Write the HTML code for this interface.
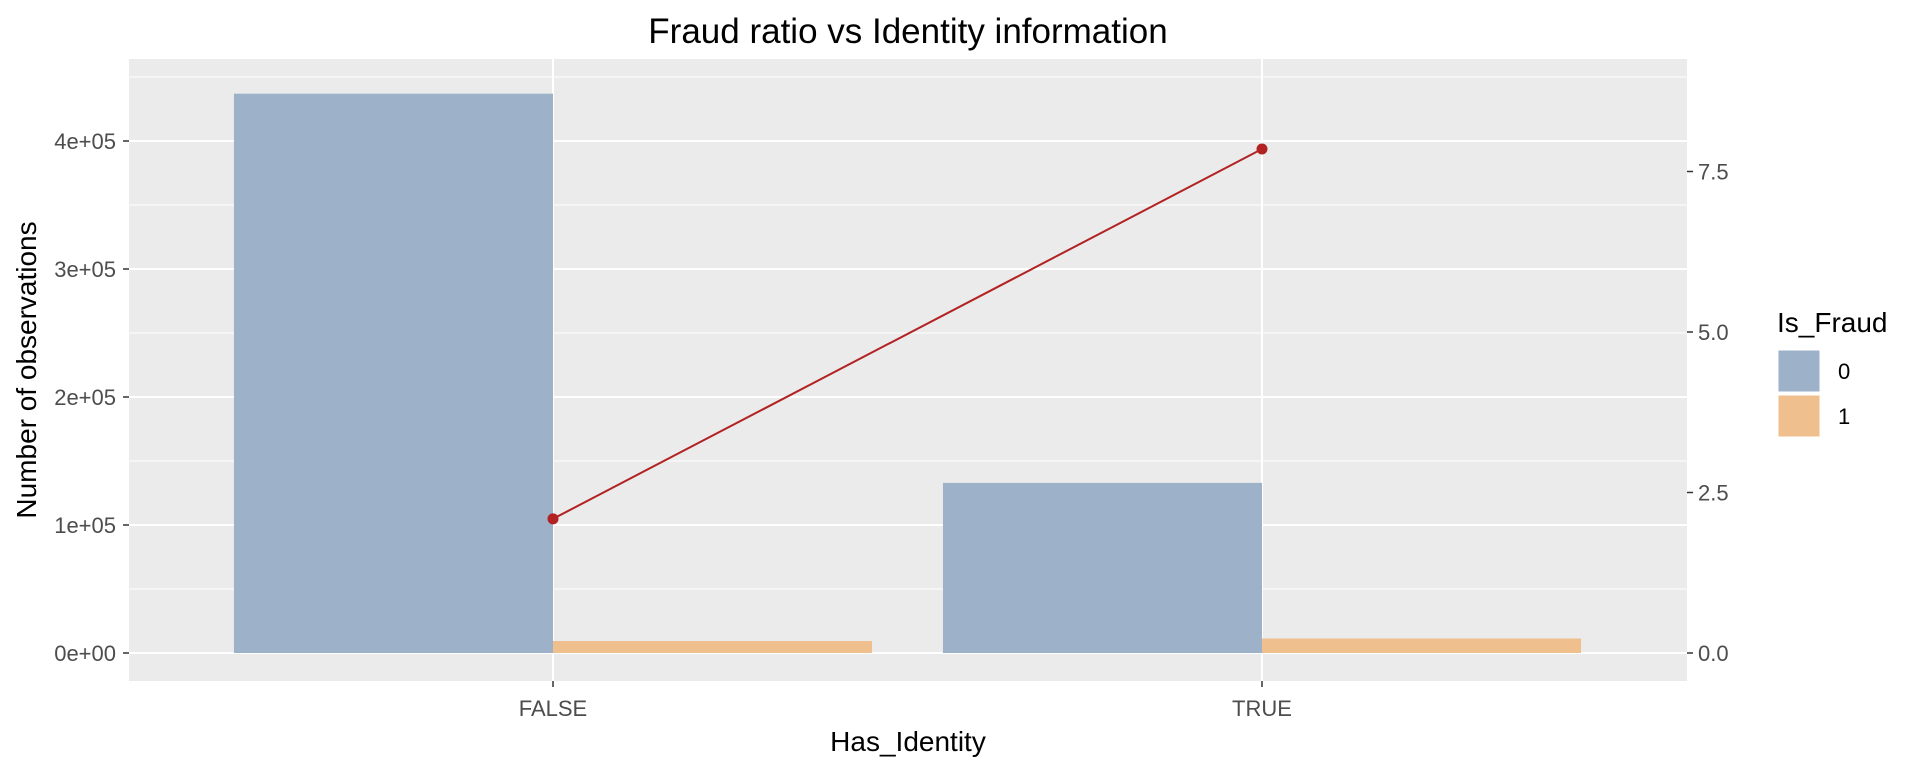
<!DOCTYPE html>
<html><head><meta charset="utf-8"><style>
body{margin:0;background:#fff;}
svg text{font-family:"Liberation Sans",Arial,sans-serif;}
</style></head><body>
<svg id="chart" width="1920" height="768" xmlns="http://www.w3.org/2000/svg">
<text x="908" y="43" font-size="35" text-anchor="middle" fill="#000">Fraud ratio vs Identity information</text>
<rect x="129" y="59" width="1558" height="622" fill="#EBEBEB"/>
<g id="grid"></g><g id="bars"></g><g id="line"></g><g id="axes"></g>
<text x="908" y="751" font-size="28" text-anchor="middle" fill="#000">Has_Identity</text>
<text transform="translate(36,370) rotate(-90)" font-size="28" text-anchor="middle" fill="#000">Number of observations</text>
<g>
<text x="1777" y="332" font-size="28" fill="#000">Is_Fraud</text>
<rect x="1778" y="350" width="42" height="42" fill="#9DB1C8" stroke="#fff"/>
<text x="1838" y="379" font-size="22" fill="#000">0</text>
<rect x="1778" y="395" width="42" height="42" fill="#F0BF8E" stroke="#fff"/>
<text x="1838" y="424" font-size="22" fill="#000">1</text>
</g>
</svg>
<script>
const categories = ["FALSE", "TRUE"];
const countNotFraud = [436962, 132915];
const countFraud = [9345, 11318];
const fraudRatio = [2.09, 7.85];
const leftTicks = [0, 100000, 200000, 300000, 400000];
const leftTickLabels = ["0e+00", "1e+05", "2e+05", "3e+05", "4e+05"];
const rightTicks = [0, 2.5, 5.0, 7.5];
const rightTickLabels = ["0.0", "2.5", "5.0", "7.5"];

const NS = "http://www.w3.org/2000/svg";
const pl = 129, pr = 1687, pt = 59, pb = 681;
const y0 = 653, pxPerUnit = 128 / 100000;
const yL = v => y0 - v * pxPerUnit;
const yR = v => y0 - v * 64.2;
const step = 709;
const xC = i => 553 + i * step;
function mk(tag, attrs, parent) {
  const e = document.createElementNS(NS, tag);
  for (const k in attrs) e.setAttribute(k, attrs[k]);
  parent.appendChild(e); return e;
}
const grid = document.getElementById("grid");
for (let v = 50000; v <= 450000; v += 100000) {
  const l = mk("line", {x1: pl, x2: pr, y1: yL(v), y2: yL(v), stroke: "#fff", "stroke-width": 1}, grid);
  
  
}
leftTicks.forEach(v => {
  const l = mk("line", {x1: pl, x2: pr, y1: yL(v), y2: yL(v), stroke: "#fff", "stroke-width": 2}, grid);
  
  
});
categories.forEach((c, i) => {
  const l = mk("line", {x1: xC(i), x2: xC(i), y1: pt, y2: pb, stroke: "#fff", "stroke-width": 2}, grid);
  
  
});
const bars = document.getElementById("bars");
const bw = 0.45 * step;
categories.forEach((c, i) => {
  const b0 = mk("rect", {x: xC(i) - bw, y: yL(countNotFraud[i]), width: bw, height: y0 - yL(countNotFraud[i]), fill: "#9DB1C8"}, bars);
  
  
  const b1 = mk("rect", {x: xC(i), y: yL(countFraud[i]), width: bw, height: y0 - yL(countFraud[i]), fill: "#F0BF8E"}, bars);
  
  
});
const lg = document.getElementById("line");
const pts = fraudRatio.map((v, i) => xC(i) + "," + yR(v)).join(" ");
const pl2 = mk("polyline", {points: pts, fill: "none", stroke: "#B22222", "stroke-width": 2}, lg);


fraudRatio.forEach((v, i) => {
  const p = mk("circle", {cx: xC(i), cy: yR(v), r: 5.5, fill: "#B22222"}, lg);
  
  
});
const ax = document.getElementById("axes");
leftTicks.forEach((v, i) => {
  const t = mk("line", {x1: pl - 6, x2: pl, y1: yL(v), y2: yL(v), stroke: "#333", "stroke-width": 1.5}, ax);
  
  
  const tx = mk("text", {x: pl - 13, y: yL(v) + 8, "font-size": 22, "text-anchor": "end", fill: "#4D4D4D"}, ax);
  tx.textContent = leftTickLabels[i];
  
  
});
rightTicks.forEach((v, i) => {
  const t = mk("line", {x1: pr, x2: pr + 6, y1: yR(v), y2: yR(v), stroke: "#333", "stroke-width": 1.5}, ax);
  
  
  const tx = mk("text", {x: pr + 11, y: yR(v) + 8, "font-size": 22, fill: "#4D4D4D"}, ax);
  tx.textContent = rightTickLabels[i];
  
  
});
categories.forEach((c, i) => {
  const t = mk("line", {x1: xC(i), x2: xC(i), y1: pb, y2: pb + 6, stroke: "#333", "stroke-width": 1.5}, ax);
  
  
  const tx = mk("text", {x: xC(i), y: pb + 35, "font-size": 22, "text-anchor": "middle", fill: "#4D4D4D"}, ax);
  tx.textContent = c;
  
  
});
</script>
</body></html>
